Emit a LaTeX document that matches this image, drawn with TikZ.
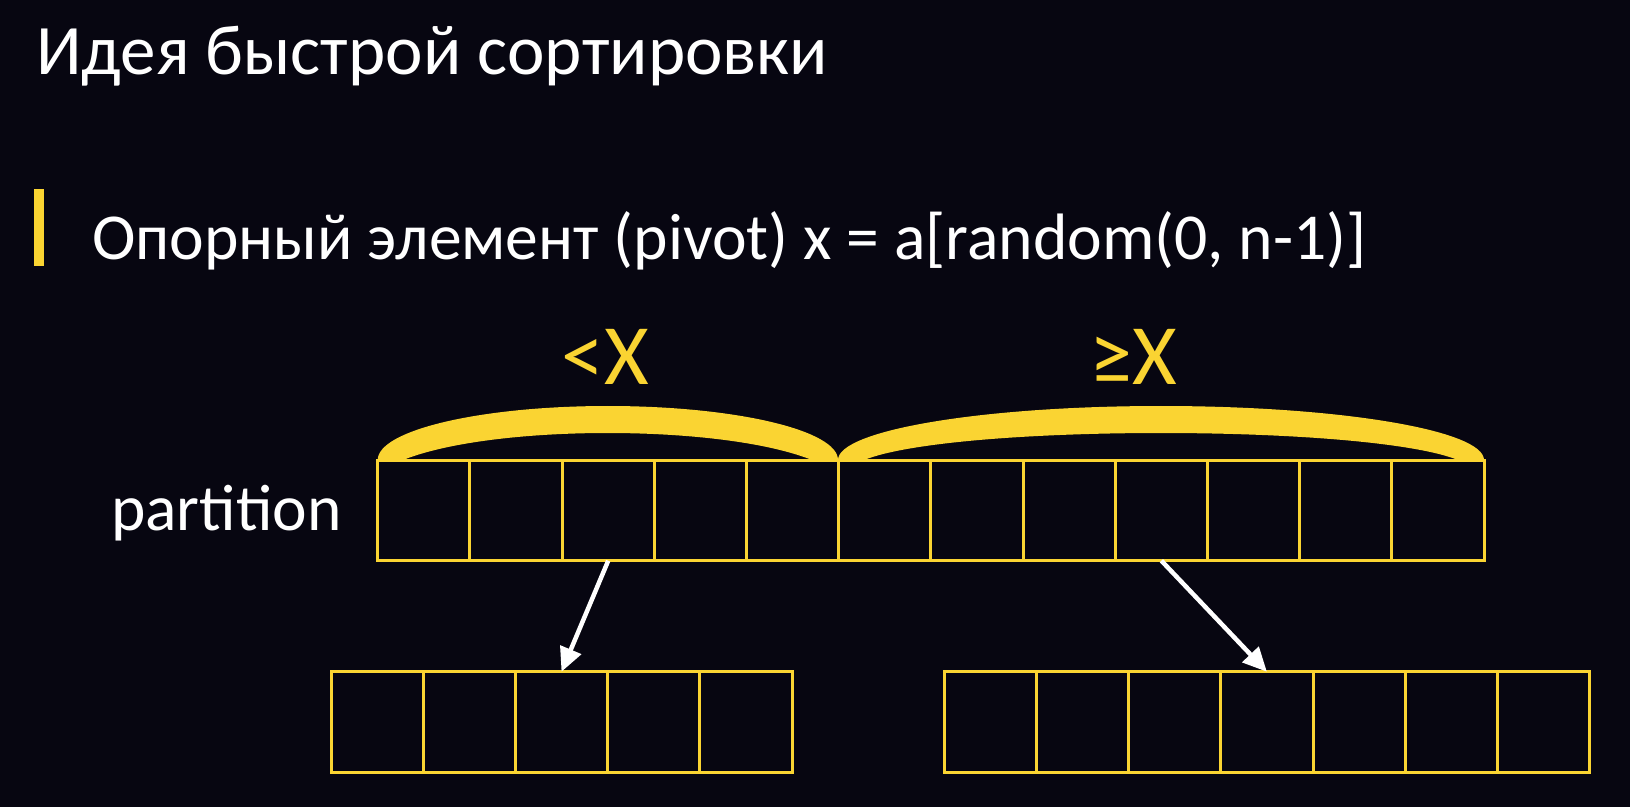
\documentclass[tikz,border=0pt]{standalone}
\usepackage{fontspec}
\setmainfont{Carlito}
\usetikzlibrary{arrows.meta}
\definecolor{bg}{RGB}{7,6,17}
\definecolor{yel}{RGB}{250,212,50}
\begin{document}
\begin{tikzpicture}[x=1pt,y=1pt,
  cell/.style={draw=yel, line width=3pt, minimum width=92.2pt, minimum height=100.5pt, inner sep=0pt, outer sep=0pt},
  arr/.style={draw=white, line width=4.5pt, -{Triangle[length=24pt,width=22pt]}},
  txt/.style={text=white, inner sep=0pt, anchor=base west},
  lbl/.style={text=yel, inner sep=0pt, anchor=base west, font=\fontsize{86}{90}\selectfont}]
\fill[bg] (0,0) rectangle (1630,807);
\useasboundingbox (0,0) rectangle (1630,807);
% title and bullet
\node[txt, font=\fontsize{71}{75}\selectfont] (title) at (36,732) {Идея быстрой сортировки};
\node[fill=yel, minimum width=10pt, minimum height=77pt, inner sep=0pt] (bar) at (39,579.5) {};
\node[txt, font=\fontsize{65.6}{70}\selectfont] (bullet) at (92,547) {Опорный элемент (pivot) x = a[random(0, n-1)]};
% braces
\fill[yel] (377.7,347) arc[start angle=180, end angle=0, x radius=230.15, y radius=54]
  -- (812,347) .. controls (722,383) and (493,383) .. (403,347) -- cycle;
\fill[yel] (838,347) arc[start angle=180, end angle=0, x radius=323, y radius=54]
  -- (1458,347) .. controls (1368,383) and (954,383) .. (864,347) -- cycle;
\node[lbl] (lt) at (561,422) {<X};
\node[lbl] (ge) at (1089,422) {≥X};
% top array
\foreach \i in {1,...,12} {
  \node[cell] (t\i) at ({377.7+92.2*(\i-0.5)},296.5) {};
}
\node[txt, font=\fontsize{65.5}{70}\selectfont] (part) at (111,277) {partition};
% bottom arrays
\foreach \i in {1,...,5} {
  \node[cell] (l\i) at ({331+92.2*(\i-0.5)},85) {};
}
\foreach \i in {1,...,7} {
  \node[cell] (r\i) at ({944.2+92.2*(\i-0.5)},85) {};
}
\draw[arr] (t3.south) -- (l3.north);
\draw[arr] (t9.south) -- (r4.north);
\end{tikzpicture}
\end{document}
